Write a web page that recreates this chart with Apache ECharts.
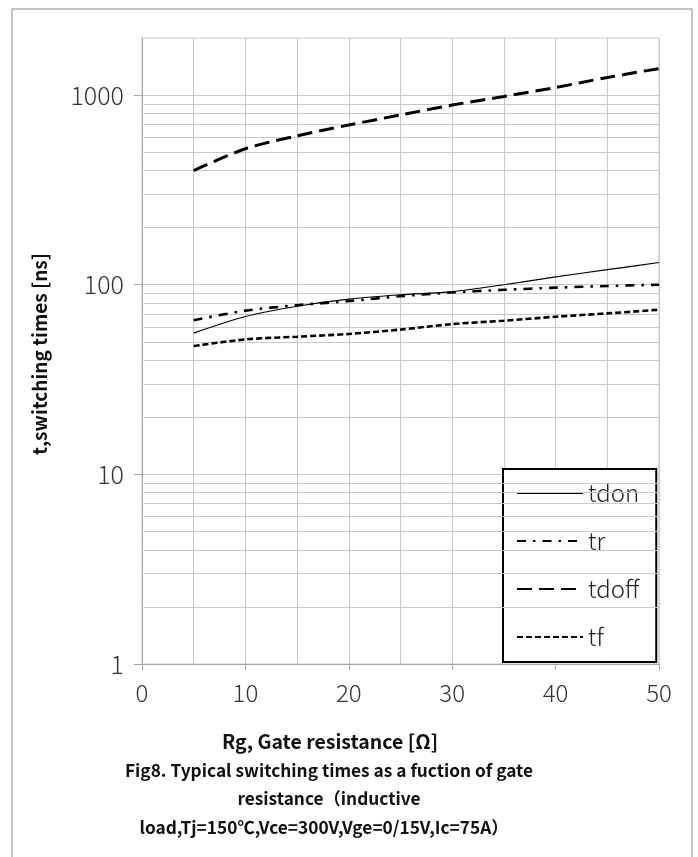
<!DOCTYPE html>
<html>
<head>
<meta charset="utf-8">
<script src="https://cdn.jsdelivr.net/npm/echarts@6/dist/echarts.min.js"></script>
<style>
html,body{margin:0;padding:0;background:#fff;}
#c{width:698px;height:857px;}
</style>
</head>
<body>
<div id="c"></div>
<script>
// ---- data ----
var rg = [5, 10, 15, 20, 25, 30, 35, 40, 45, 50];
var tdon = [55.6, 68, 77, 84, 88.5, 92, 100, 110, 120, 131];
var tr = [65, 73, 78, 82, 87, 91, 94, 96.5, 98.5, 100];
var tdoff = [400, 521, 610, 695, 786, 886, 983, 1097, 1238, 1380];
var tf = [47.5, 51.5, 53.2, 55, 58, 62, 64.6, 67.8, 70.6, 73.8];
var seriesNames = ['tdon', 'tr', 'tdoff', 'tf'];
var yMajorTicks = [1, 10, 100, 1000];
var yMinorGrid = [2,3,4,5,6,7,8,9,20,30,40,50,60,70,80,90,200,300,400,500,600,700,800,900];
var xTitle = 'Rg, Gate resistance [Ω]';
var yTitle = 't,switching times [ns]';
var captionLines = [
  'Fig8. Typical switching times as a fuction of gate',
  'resistance（inductive',
  'load,Tj=150℃,Vce=300V,Vge=0/15V,Ic=75A）'
];

function pairs(xs, ys) { return xs.map(function (x, i) { return [x, ys[i]]; }); }

var FONT = '"Noto Sans CJK SC", "Noto Sans", sans-serif';
var GRID = '#c8c8c8';

var chart = echarts.init(document.getElementById('c'), null, {renderer: 'canvas'});

var option = {
  animation: false,
  backgroundColor: '#ffffff',
  textStyle: {fontFamily: FONT},
  grid: {left: 142, right: 39, top: 38, bottom: 193, show: true, borderColor: GRID, borderWidth: 1, containLabel: false},
  xAxis: {
    type: 'value', min: 0, max: 50, interval: 10,
    axisLine: {show: true, lineStyle: {color: '#a6a6a6', width: 1}},
    axisTick: {show: true, length: 6, lineStyle: {color: '#a6a6a6'}},
    axisLabel: {color: '#333', fontSize: 24, fontWeight: 300, fontFamily: FONT, margin: 17},
    splitLine: {show: true, lineStyle: {color: GRID, width: 1}},
    minorTick: {show: false, splitNumber: 2},
    minorSplitLine: {show: true, lineStyle: {color: GRID, width: 1}}
  },
  yAxis: {
    type: 'log', logBase: 10, min: 1, max: 2000,
    axisLine: {show: true, lineStyle: {color: '#a6a6a6', width: 1}},
    axisTick: {show: true, length: 8, customValues: yMajorTicks, lineStyle: {color: '#a6a6a6'}},
    axisLabel: {color: '#333', fontSize: 25, fontWeight: 300, fontFamily: FONT, margin: 18, customValues: yMajorTicks,
      formatter: function (v) { return String(v); }},
    splitLine: {show: true, lineStyle: {color: GRID, width: 1}}
  },
  legend: {
    data: seriesNames,
    orient: 'vertical',
    left: 503, top: 469,
    padding: [12, 17, 13, 13],
    itemWidth: 66, itemHeight: 20, itemGap: 24,
    backgroundColor: '#fff',
    borderColor: '#000', borderWidth: 2,
    itemStyle: {opacity: 0},
    textStyle: {fontSize: 24, fontWeight: 300, color: '#222', fontFamily: FONT, lineHeight: 21},
    selectedMode: false
  },
  graphic: [
    {type: 'rect', shape: {x: 12, y: 9, width: 680, height: 900}, style: {fill: 'none', stroke: '#8a8a8a', lineWidth: 1}, z: -10, silent: true},
    {type: 'text', x: 330, y: 742, style: {text: xTitle, font: 'bold 19.5px ' + FONT, fill: '#111', textAlign: 'center', textVerticalAlign: 'middle'}},
    {type: 'text', x: 40, y: 354, rotation: Math.PI / 2, style: {text: yTitle, font: 'bold 19px ' + FONT, fill: '#111', textAlign: 'center', textVerticalAlign: 'middle'}},
    {type: 'text', x: 329, y: 770, style: {text: captionLines[0], font: 'bold 17.3px ' + FONT, fill: '#111', textAlign: 'center', textVerticalAlign: 'middle'}},
    {type: 'text', x: 329, y: 798, style: {text: captionLines[1], font: 'bold 17.3px ' + FONT, fill: '#111', textAlign: 'center', textVerticalAlign: 'middle'}},
    {type: 'text', x: 324, y: 827, style: {text: captionLines[2], font: 'bold 17.3px ' + FONT, fill: '#111', textAlign: 'center', textVerticalAlign: 'middle'}}
  ],
  series: [
    {
      name: '_grid', type: 'line', data: [], silent: true, z: 1,
      markLine: {
        silent: true, symbol: 'none', label: {show: false}, animation: false,
        lineStyle: {color: GRID, width: 1, type: 'solid'},
        data: yMinorGrid.map(function (v) { return {yAxis: v}; })
      }
    },
    {name: 'tdon', type: 'line', data: pairs(rg, tdon), smooth: 0.3, symbol: 'none', z: 5, itemStyle: {color: '#000'},
     lineStyle: {color: '#000', width: 1.2, type: 'solid'}},
    {name: 'tr', type: 'line', data: pairs(rg, tr), smooth: 0.3, symbol: 'none', z: 5, itemStyle: {color: '#000'},
     lineStyle: {color: '#000', width: 2.6, type: [9, 7, 2.5, 7]}},
    {name: 'tdoff', type: 'line', data: pairs(rg, tdoff), smooth: 0.3, symbol: 'none', z: 5, itemStyle: {color: '#000'},
     lineStyle: {color: '#000', width: 3, type: [15, 7]}},
    {name: 'tf', type: 'line', data: pairs(rg, tf), smooth: 0.3, symbol: 'none', z: 5, itemStyle: {color: '#000'},
     lineStyle: {color: '#000', width: 2.6, type: [6, 3]}}
  ]
};
chart.setOption(option);
</script>
</body>
</html>
